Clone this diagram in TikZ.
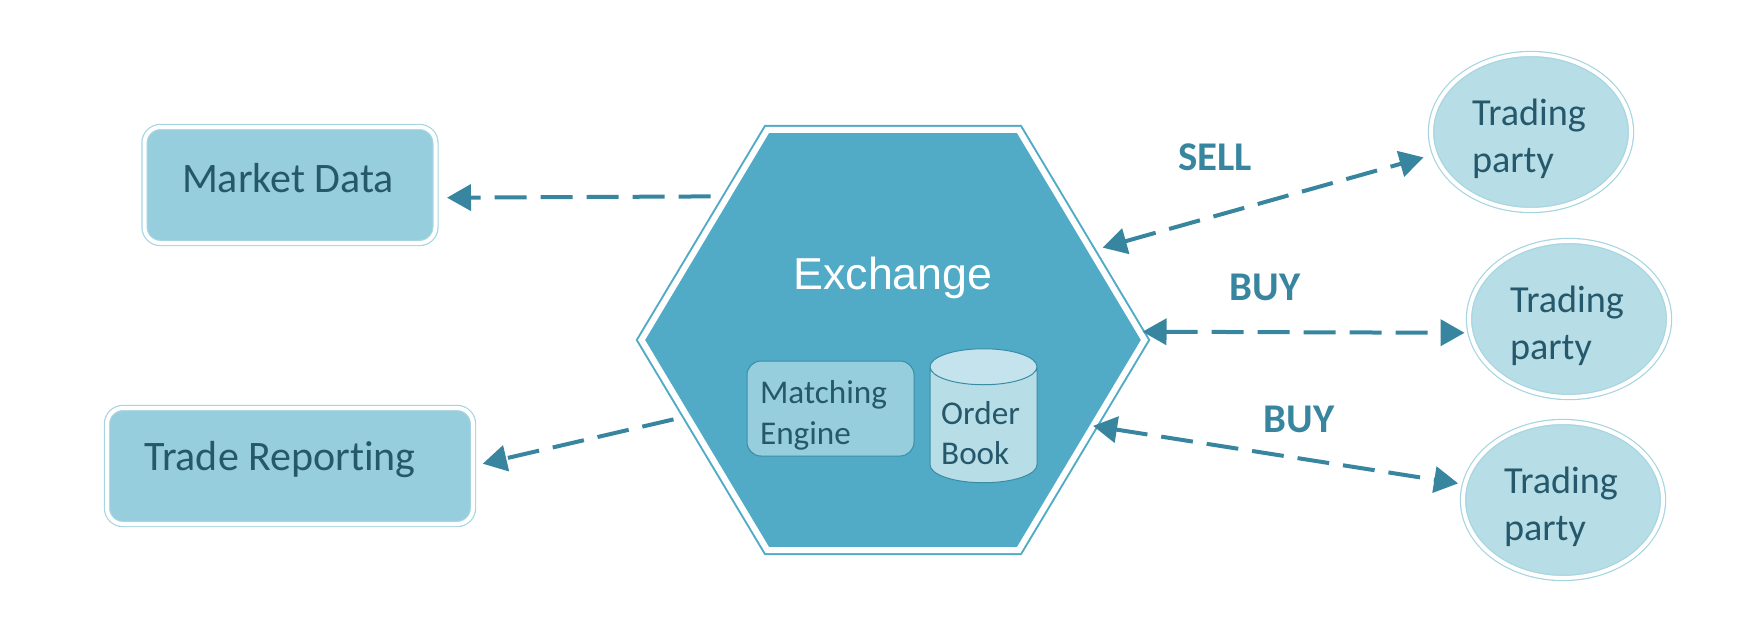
\documentclass[tikz,border=0pt]{standalone}
\usepackage{fontspec}
\setmainfont{Carlito}[Ligatures=NoCommon]
\newfontfamily\helvfont{Liberation Sans}
\usetikzlibrary{arrows.meta, shapes.geometric}

\definecolor{hexfill}{HTML}{51ABC6}
\definecolor{panelfill}{HTML}{96CEDD}
\definecolor{partyfill}{HTML}{B7DDE6}
\definecolor{capfill}{HTML}{C5E3EC}
\definecolor{ringcolor}{HTML}{A6D5E2}
\definecolor{linkcolor}{HTML}{38859F}
\definecolor{edgecolor}{HTML}{3A8CA5}
\definecolor{inkcolor}{HTML}{26586C}

\begin{document}
\begin{tikzpicture}[
    x=0.5pt, y=-0.5pt,
    panel/.style={
        draw=ringcolor,
        double=white,
        double distance=2pt,
        line width=0.6pt,
        fill=panelfill,
        rounded corners=8pt,
        outer sep=0pt,
        minimum height=58pt
    },
    panellabel/.style={
        font=\fontsize{21}{24}\selectfont,
        text=inkcolor
    },
    party/.style={
        ellipse,
        draw=ringcolor,
        double=white,
        double distance=2pt,
        line width=0.6pt,
        fill=partyfill,
        outer sep=0pt,
        inner sep=0pt,
        minimum width=100pt,
        minimum height=78pt
    },
    partylabel/.style={
        align=left,
        text=inkcolor,
        font=\fontsize{19.1}{23.5}\selectfont
    },
    inner/.style={
        draw=edgecolor,
        line width=0.5pt,
        outer sep=0pt,
        inner sep=0pt
    },
    innerlabel/.style={
        align=left,
        text=inkcolor,
        font=\fontsize{16.6}{20.2}\selectfont
    },
    link/.style={
        {Triangle[length=12pt,width=13pt]}-{Triangle[length=12pt,width=13pt]},
        draw=linkcolor,
        line width=2pt,
        dash pattern=on 16pt off 7pt
    },
    oneway/.style={
        -{Triangle[length=12pt,width=13pt]},
        draw=linkcolor,
        line width=2pt,
        dash pattern=on 16pt off 7pt
    },
    side/.style={
        font=\fontsize{20.4}{24}\bfseries\selectfont,
        text=linkcolor
    }
]
\useasboundingbox (0,0) rectangle (1752,643);

% Exchange
\node[regular polygon, regular polygon sides=6, transform shape, xscale=1.037,
    draw=hexfill, double=white, double distance=3pt, line width=1pt, fill=hexfill,
    inner sep=0pt, outer sep=0pt, minimum size=242.5pt] (exchange) at (893,340) {};
\node[font=\helvfont\fontsize{22.4}{26}\selectfont, text=white] (exchangelabel) at (893,278) {Exchange};
\node[inner, rounded corners=7pt, fill=panelfill, minimum width=83.5pt, minimum height=47.5pt] (engine) at (830.5,408.5) {};
\node[innerlabel] (enginelabel) at (823.5,415.5) {Matching\\Engine};
\node[inner, cylinder, shape border rotate=90, aspect=0.45, text width=40pt, cylinder uses custom fill,
    cylinder body fill=partyfill, cylinder end fill=capfill, minimum width=53.5pt, minimum height=67pt] (book) at (983.5,425) {};
\node[innerlabel] (booklabel) at (980.5,433) {Order\\Book};

% Left side
\node[panel, minimum width=145.5pt] (market) at (290,185) {};
\node[panellabel] (marketlabel) at (288,178) {Market Data};
\node[panel, minimum width=183pt] (trade) at (290,466) {};
\node[panellabel] (tradelabel) at (280,460) {Trade Reporting};

% Right side
\node[party] (partyone) at (1531,132) {};
\node[partylabel] (partyonelabel) at ([shift={(-2,7)}]partyone.center) {Trading\\party};
\node[party] (partytwo) at (1569,319) {};
\node[partylabel] (partytwolabel) at ([shift={(-2,7)}]partytwo.center) {Trading\\party};
\node[party] (partythree) at (1563,500) {};
\node[partylabel] (partythreelabel) at ([shift={(-2,7)}]partythree.center) {Trading\\party};

% Arrows
\draw[oneway, shorten <=8.5pt, shorten >=5.75pt] (exchange.138.5) -- (market.-5.5);
\draw[oneway, shorten <=7pt, shorten >=5pt] (exchange.201.3) -- (trade.east);
\draw[link, shorten <=6pt, shorten >=6pt] (exchange.25.1) -- (partyone.193.5);
\draw[link, shorten <=1.5pt, shorten >=3pt] (exchange.2.2) -- (partytwo.188.5);
\draw[link, shorten >=3.5pt] (exchange.-24.5) -- (partythree.171.5);

% Labels
\node[side] (selllabel) at (1215,157) {SELL};
\node[side] (buyonelabel) at (1265,287) {BUY};
\node[side] (buytwolabel) at (1299,419) {BUY};

\end{tikzpicture}
\end{document}
